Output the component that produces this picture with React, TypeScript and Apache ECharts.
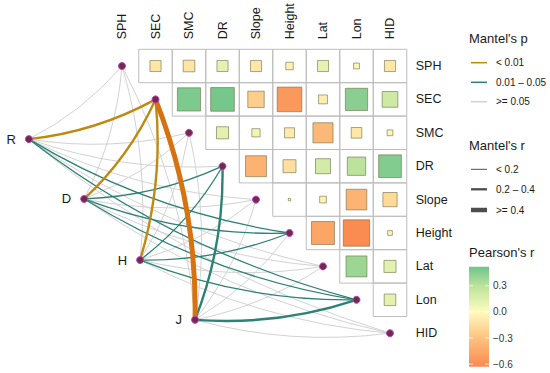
import React, { useEffect, useRef } from "react";
import * as echarts from "echarts";

// ---------- data ----------
const envVars = ["SPH", "SEC", "SMC", "DR", "Slope", "Height", "Lat", "Lon", "HID"];

// Pearson's r, upper triangle (row variable vs. the variables after it)
const corrSPH = [-0.11, -0.12, 0.11, -0.11, -0.05, 0.11, -0.03, -0.11];
const corrSEC = [0.48, 0.5, -0.24, -0.54, -0.07, 0.44, 0.22];
const corrSMC = [0.13, 0.06, -0.09, -0.36, -0.1, -0.03];
const corrDR = [-0.39, -0.15, 0.2, 0.3, 0.46];
const corrSlope = [-0.005, -0.04, -0.38, -0.18];
const corrHeight = [-0.47, -0.62, -0.02];
const corrLat = [0.39, 0.13];
const corrLon = [0.12];
const corrRows = [corrSPH, corrSEC, corrSMC, corrDR, corrSlope, corrHeight, corrLat, corrLon];

// Mantel groups and their node positions (matrix units)
const groups = ["R", "D", "H", "J"];
const groupX = [-2.78, -1.13, 0.54, 2.18];
const groupY = [2.19, 3.98, 5.81, 7.6];

// Mantel's p class per env var: 0 "< 0.01", 1 "0.01 – 0.05", 2 ">= 0.05"
const mantelP_R = [2, 0, 2, 2, 2, 1, 2, 1, 2];
const mantelP_D = [2, 0, 2, 1, 2, 1, 2, 1, 2];
const mantelP_H = [2, 0, 2, 1, 2, 1, 2, 1, 2];
const mantelP_J = [2, 0, 2, 1, 2, 2, 2, 1, 2];
const mantelP = [mantelP_R, mantelP_D, mantelP_H, mantelP_J];
// Mantel's r class: 0 "< 0.2", 1 "0.2 – 0.4", 2 ">= 0.4"
const mantelR_R = [0, 1, 0, 0, 0, 0, 0, 0, 0];
const mantelR_D = [0, 1, 0, 0, 0, 0, 0, 0, 0];
const mantelR_H = [0, 1, 0, 0, 0, 0, 0, 0, 0];
const mantelR_J = [0, 2, 0, 1, 0, 0, 0, 1, 0];
const mantelR = [mantelR_R, mantelR_D, mantelR_H, mantelR_J];

const pLabels = ["< 0.01", "0.01 \u2013 0.05", ">= 0.05"];
const rLabels = ["< 0.2", "0.2 \u2013 0.4", ">= 0.4"];
const pearsonTicks = [0.3, 0.0, -0.3, -0.6];
const pearsonMin = -0.63;
const pearsonMax = 0.52;

// ---------- styles ----------
const FONT = "'Liberation Sans', Arial, Helvetica, sans-serif";
const TXT = "#1a1a1a";
const colorStops: [number, string][] = [
  [-0.63, "#FA8A50"],
  [-0.3, "#FDC27F"],
  [0, "#FFFBBE"],
  [0.3, "#BBE39B"],
  [0.52, "#6EC48B"],
];
const pColors = ["#BF8A12", "#2D8276", "#D2D2D2"];
const rWidths = [1.3, 2.4, 5];

function pearsonColor(v: number): string {
  if (v <= colorStops[0][0]) return colorStops[0][1];
  for (let k = 0; k < colorStops.length - 1; k++) {
    const [a, ca] = colorStops[k];
    const [b, cb] = colorStops[k + 1];
    if (v <= b) return echarts.color.lerp((v - a) / (b - a), [ca, cb]) as string;
  }
  return colorStops[colorStops.length - 1][1];
}

function edgeColor(p: number, r: number) {
  if (p === 0 && r === 2) return "#D6720F";
  return pColors[p];
}
function edgeWidth(p: number, r: number) {
  if (p === 2) return 1;
  return rWidths[r];
}

export default function App() {
  const ref = useRef<HTMLDivElement>(null);
  useEffect(() => {
    document.body.style.margin = "0";
    const chart = echarts.init(ref.current!, null, { renderer: "svg" });

    const cellData: number[][] = [];
    corrRows.forEach((row, i) => {
      row.forEach((r, k) => cellData.push([i + 1 + k, i, r]));
    });

    const edges: any[] = [];
    groups.forEach((g, gi) => {
      envVars.forEach((v, vi) => {
        const p = mantelP[gi][vi];
        const r = mantelR[gi][vi];
        edges.push({ p, r, gi, vi });
      });
    });
    edges.sort((a, b) => b.p - a.p || a.r - b.r);
    const lineData = edges.map((e) => ({
      coords: [
        [e.vi, e.vi],
        [groupX[e.gi], groupY[e.gi]],
      ],
      lineStyle: { color: edgeColor(e.p, e.r), width: edgeWidth(e.p, e.r), curveness: 0.1, opacity: 1 },
    }));

    const nodeData: any[] = [];
    envVars.forEach((v, i) => nodeData.push({ name: v, value: [i, i], label: { show: false } }));
    groups.forEach((g, gi) => nodeData.push({ name: g, value: [groupX[gi], groupY[gi]], label: { show: true } }));

    const span = pearsonMax - pearsonMin;
    const gradStops = colorStops
      .slice()
      .reverse()
      .map(([v, c]) => ({ offset: (pearsonMax - v) / span, color: c }));

    const legX = 469;
    const graphic: any[] = [
      { type: "text", x: legX, y: 38, style: { text: "Mantel's p", font: `13px ${FONT}`, fill: TXT, verticalAlign: "middle" } },
      { type: "text", x: legX, y: 145, style: { text: "Mantel's r", font: `13px ${FONT}`, fill: TXT, verticalAlign: "middle" } },
      { type: "text", x: legX, y: 252, style: { text: "Pearson's r", font: `13px ${FONT}`, fill: TXT, verticalAlign: "middle" } },
    ];
    const pY = [62.7, 82.3, 101.7];
    pLabels.forEach((t, k) => {
      graphic.push({ type: "line", shape: { x1: 471, y1: pY[k], x2: 487, y2: pY[k] }, style: { stroke: pColors[k], lineWidth: 1.5 } });
      graphic.push({ type: "text", x: 496, y: pY[k], style: { text: t, font: `10px ${FONT}`, fill: TXT, verticalAlign: "middle" } });
    });
    const rY = [169.3, 189.3, 210];
    rLabels.forEach((t, k) => {
      graphic.push({ type: "line", shape: { x1: 471, y1: rY[k], x2: 487, y2: rY[k] }, style: { stroke: "#4d4d4d", lineWidth: [1, 2.3, 4.5][k] } });
      graphic.push({ type: "text", x: 496, y: rY[k], style: { text: t, font: `10px ${FONT}`, fill: TXT, verticalAlign: "middle" } });
    });
    const barTop = 266.7;
    const barH = 100;
    graphic.push({
      type: "rect",
      shape: { x: legX, y: barTop, width: 20, height: barH },
      style: { fill: new echarts.graphic.LinearGradient(0, 0, 0, 1, gradStops) },
    });
    pearsonTicks.forEach((t) => {
      const y = barTop + (barH * (pearsonMax - t)) / span;
      graphic.push({ type: "line", shape: { x1: legX, y1: y, x2: legX + 4, y2: y }, style: { stroke: "#ffffff", lineWidth: 0.8 } });
      graphic.push({ type: "line", shape: { x1: legX + 16, y1: y, x2: legX + 20, y2: y }, style: { stroke: "#ffffff", lineWidth: 0.8 } });
      graphic.push({
        type: "text",
        x: legX + 24,
        y,
        style: { text: t.toFixed(1).replace("-", "\u2212"), font: `10px ${FONT}`, fill: "#333", verticalAlign: "middle" },
      });
    });

    chart.setOption({
      animation: false,
      grid: { left: 4.75, top: 49.3, width: 402, height: 300.6 },
      xAxis: { type: "value", min: -3.5, max: 8.5, show: false },
      yAxis: { type: "value", min: -0.5, max: 8.5, inverse: true, show: false },
      graphic,
      series: [
        {
          type: "custom",
          coordinateSystem: "cartesian2d",
          data: cellData,
          z: 1,
          renderItem: (params: any, api: any) => {
            const j = api.value(0);
            const i = api.value(1);
            const r = api.value(2);
            const c = api.coord([j, i]);
            const s = api.size([1, 1]).map((d: number) => Math.abs(d));
            const side = s[0] * Math.sqrt(Math.abs(r));
            return {
              type: "group",
              children: [
                {
                  type: "rect",
                  shape: { x: c[0] - s[0] / 2, y: c[1] - s[1] / 2, width: s[0], height: s[1] },
                  style: { fill: "none", stroke: "#BDBDBD", lineWidth: 1 },
                },
                {
                  type: "rect",
                  shape: { x: c[0] - side / 2, y: c[1] - side / 2, width: side, height: side },
                  style: { fill: pearsonColor(r), stroke: "rgba(110,110,70,0.6)", lineWidth: 1 },
                },
              ],
            };
          },
        },
        {
          type: "custom",
          coordinateSystem: "cartesian2d",
          data: envVars.map((v, i) => [i, i]),
          z: 2,
          renderItem: (params: any, api: any) => {
            const i = api.value(0);
            const top = api.coord([i, -0.5]);
            const right = api.coord([8.5, i]);
            return {
              type: "group",
              children: [
                {
                  type: "text",
                  x: top[0],
                  y: top[1] - 10,
                  rotation: Math.PI / 2,
                  style: { text: envVars[i], font: `12.5px ${FONT}`, fill: TXT, align: "left", verticalAlign: "middle" },
                },
                {
                  type: "text",
                  x: right[0] + 9,
                  y: right[1],
                  style: { text: envVars[i], font: `12.5px ${FONT}`, fill: TXT, align: "left", verticalAlign: "middle" },
                },
              ],
            };
          },
        },
        {
          type: "lines",
          coordinateSystem: "cartesian2d",
          z: 3,
          silent: true,
          lineStyle: { curveness: 0.1 },
          data: lineData,
        },
        {
          type: "scatter",
          z: 4,
          symbolSize: 7,
          silent: true,
          itemStyle: { color: "#6E2C48", borderColor: "#C23DC2", borderWidth: 1, opacity: 1 },
          label: {
            position: "left",
            distance: 9,
            formatter: "{b}",
            fontSize: 13,
            fontFamily: FONT,
            color: TXT,
          },
          data: nodeData,
        },
      ],
    });
    return () => chart.dispose();
  }, []);
  return <div ref={ref} style={{ width: 550, height: 373 }} />;
}
